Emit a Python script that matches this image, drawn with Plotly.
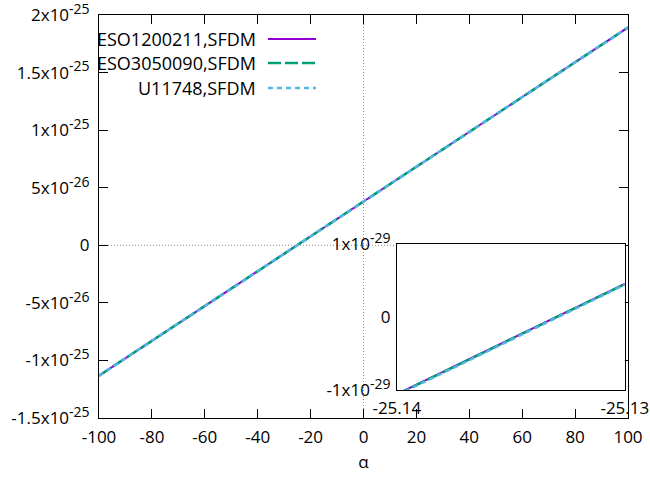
import plotly.graph_objects as go

# Series values over the full alpha range
alpha = [-100, 100]
eso1200211 = [-1.1320e-25, 1.8920e-25]
eso3050090 = [-1.1322e-25, 1.8918e-25]
u11748 = [-1.1330e-25, 1.8912e-25]

# Same series close to the zero crossing (inset)
alpha_zoom = [-25.14, -25.13]
eso1200211_zoom = [-1.058e-29, 0.454e-29]
eso3050090_zoom = [-1.062e-29, 0.450e-29]
u11748_zoom = [-1.072e-29, 0.442e-29]

names = ["ESO1200211,SFDM", "ESO3050090,SFDM", "U11748,SFDM"]
colors = ["#9400d3", "#009e73", "#56b4e9"]
dashes = ["solid", "13px,4px", "5px,4px"]
widths = [2, 2.5, 2.5]

SUP = '<sup><span style="font-size:14px">{}</span></sup>'

x_ticks = [-100, -80, -60, -40, -20, 0, 20, 40, 60, 80, 100]
x_ticktext = ["-100", "-80", "-60", "-40", "-20", "0", "20", "40", "60", "80", "100"]
y_ticks = [-1.5e-25, -1e-25, -5e-26, 0, 5e-26, 1e-25, 1.5e-25, 2e-25]
y_ticktext = ["-1.5x10" + SUP.format("-25"), "-1x10" + SUP.format("-25"),
              "-5x10" + SUP.format("-26"), "0",
              "5x10" + SUP.format("-26"), "1x10" + SUP.format("-25"),
              "1.5x10" + SUP.format("-25"), "2x10" + SUP.format("-25")]
zx_ticks = [-25.14, -25.13]
zx_ticktext = ["-25.14", "-25.13"]
zy_ticks = [-1e-29, 0, 1e-29]
zy_ticktext = ["-1x10" + SUP.format("-29"), "0", "1x10" + SUP.format("-29")]

FONT = "Open Sans"
FS = 17

fig = go.Figure()
main_sets = [eso1200211, eso3050090, u11748]
zoom_sets = [eso1200211_zoom, eso3050090_zoom, u11748_zoom]
for name, ys, yz, c, d, w in zip(names, main_sets, zoom_sets, colors, dashes, widths):
    fig.add_trace(go.Scatter(x=alpha, y=ys, mode="lines", name=name,
                             line=dict(color=c, dash=d, width=w), showlegend=False))
    fig.add_trace(go.Scatter(x=alpha_zoom, y=yz, mode="lines", name=name,
                             line=dict(color=c, dash=d, width=w), showlegend=False,
                             xaxis="x2", yaxis="y2"))

dotted = dict(color="#8a8a8a", width=1, dash="1px,2px")
# zero axes of the main panel
fig.add_shape(type="line", xref="x domain", yref="y", x0=0, x1=1, y0=0, y1=0, line=dotted, layer="below")
fig.add_shape(type="line", xref="x", yref="y domain", x0=0, x1=0, y0=0, y1=1, line=dotted, layer="below")
# zero axis of the inset
fig.add_shape(type="line", xref="x2 domain", yref="y2", x0=0, x1=1, y0=0, y1=0, line=dotted, layer="below")

# key: label on the left, line sample on the right
key_y = [0.9404, 0.8809, 0.8189]
for name, c, d, w, ky in zip(names, colors, dashes, widths, key_y):
    fig.add_annotation(xref="paper", yref="paper", x=0.3006, y=ky, text=name, showarrow=False,
                       xanchor="right", yanchor="middle", font=dict(family=FONT, size=18, color="#000"))
    fig.add_shape(type="line", xref="paper", yref="paper", x0=0.3195, x1=0.4102, y0=ky, y1=ky,
                  line=dict(color=c, dash=d, width=w))

tickfont = dict(family=FONT, size=FS, color="#000")
axis_common = dict(showline=True, linecolor="#000", linewidth=1, mirror="ticks",
                   ticks="inside", ticklen=9, tickwidth=1, tickcolor="#000",
                   showgrid=False, zeroline=False, automargin=False,
                   ticklabeloverflow="allow", tickfont=tickfont)
inset_common = dict(showline=True, linecolor="#000", linewidth=1, mirror=True, ticks="",
                    showgrid=False, zeroline=False, automargin=False,
                    ticklabeloverflow="allow", tickfont=tickfont)

fig.update_layout(
    width=650, height=479,
    margin=dict(l=99, r=22, t=15, b=61),
    paper_bgcolor="white", plot_bgcolor="white",
    font=dict(family=FONT, size=FS, color="#000"),
    xaxis=dict(domain=[0, 1], range=[-100, 100], tickvals=x_ticks, ticktext=x_ticktext,
               ticklabelstandoff=4,
               title=dict(text="α", font=dict(family=FONT, size=FS), standoff=8), **axis_common),
    yaxis=dict(domain=[0, 1], range=[-1.5e-25, 2e-25], tickvals=y_ticks, ticktext=y_ticktext,
               ticklabelstandoff=5, **axis_common),
    xaxis2=dict(domain=[0.563, 0.994], range=[-25.14, -25.13], anchor="y2",
                tickvals=zx_ticks, ticktext=zx_ticktext, ticklabelstandoff=3, **inset_common),
    yaxis2=dict(domain=[0.0695, 0.432], range=[-1e-29, 1e-29], anchor="x2",
                tickvals=zy_ticks, ticktext=zy_ticktext, ticklabelstandoff=2, **inset_common),
)

fig.write_html("out.html")
